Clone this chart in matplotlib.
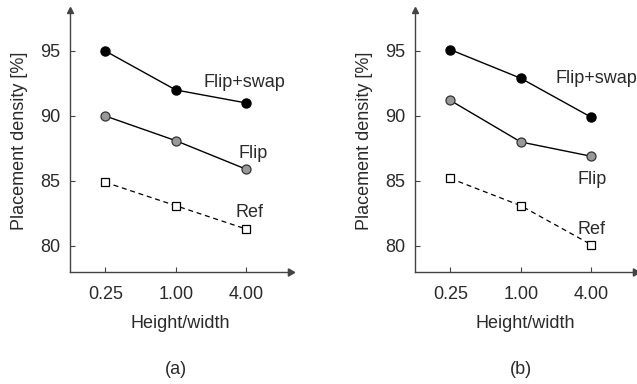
import matplotlib
matplotlib.use("Agg")
import matplotlib.pyplot as plt

plt.rcParams['font.family'] = ['Liberation Sans', 'DejaVu Sans']

categories = ["0.25", "1.00", "4.00"]
yticks = [80, 85, 90, 95]

a_flipswap = [95.0, 92.0, 91.0]
a_flip = [90.0, 88.1, 85.9]
a_ref = [84.9, 83.1, 81.3]

b_flipswap = [95.1, 92.9, 89.9]
b_flip = [91.2, 88.0, 86.9]
b_ref = [85.2, 83.1, 80.1]

panels = [
    dict(fs=a_flipswap, fl=a_flip, rf=a_ref, tag="(a)",
         lab_fs=(1.97, 92.6, "center"), lab_fl=(2.09, 87.15, "center"), lab_rf=(2.04, 82.6, "center")),
    dict(fs=b_flipswap, fl=b_flip, rf=b_ref, tag="(b)",
         lab_fs=(2.65, 92.9, "right"), lab_fl=(2.01, 85.15, "center"), lab_rf=(2.01, 81.3, "center")),
]

TXT = "#2a2a2a"
AX = "#444444"
FS = 13

fig = plt.figure(figsize=(6.37, 3.84), dpi=100)
lefts = [70 / 637, 415 / 637]
for p, left in zip(panels, lefts):
    ax = fig.add_axes([left, 112 / 384, 220 / 637, 262 / 384])
    x = list(range(len(categories)))
    ax.plot(x, p["fs"], color="black", lw=1.0, marker="o", ms=6.5,
            mfc="black", mec="black", zorder=3)
    ax.plot(x, p["fl"], color="black", lw=1.0, marker="o", ms=6.5,
            mfc="#999999", mec="#333333", mew=0.9, zorder=3)
    ax.plot(x, p["rf"], color="black", lw=0.9, ls=(0, (4, 3)), marker="s", ms=6,
            mfc="white", mec="black", mew=0.9, zorder=3)
    ax.set_xlim(-0.5, 2.62)
    ax.set_ylim(78, 98.15)
    ax.set_xticks(x)
    ax.set_xticklabels(categories)
    ax.set_yticks(yticks)
    for s in ["top", "right"]:
        ax.spines[s].set_visible(False)
    for s in ["left", "bottom"]:
        ax.spines[s].set_color(AX)
        ax.spines[s].set_linewidth(1.0)
    ax.tick_params(direction="in", length=3.5, width=0.8, color=AX,
                   labelsize=FS, labelcolor=TXT)
    ax.tick_params(axis="x", pad=10)
    ax.tick_params(axis="y", pad=7)
    ax.plot(1, 0, marker=(3, 0, -90), color=AX, ms=6,
            transform=ax.transAxes, clip_on=False)
    ax.plot(0, 1, marker="^", color=AX, ms=5,
            transform=ax.transAxes, clip_on=False)
    ax.set_ylabel("Placement density [%]", fontsize=FS, color=TXT, labelpad=9)
    ax.set_xlabel("Height/width", fontsize=FS, color=TXT, labelpad=9)
    for key, txt in (("lab_fs", "Flip+swap"), ("lab_fl", "Flip"), ("lab_rf", "Ref")):
        xx, yy, ha = p[key]
        ax.text(xx, yy, txt, fontsize=FS, color=TXT, ha=ha, va="center")
    ax.text(1, -0.374, p["tag"], fontsize=FS, color=TXT, ha="center", va="center",
            transform=ax.get_xaxis_transform())

fig.savefig("out.png", dpi=100)
